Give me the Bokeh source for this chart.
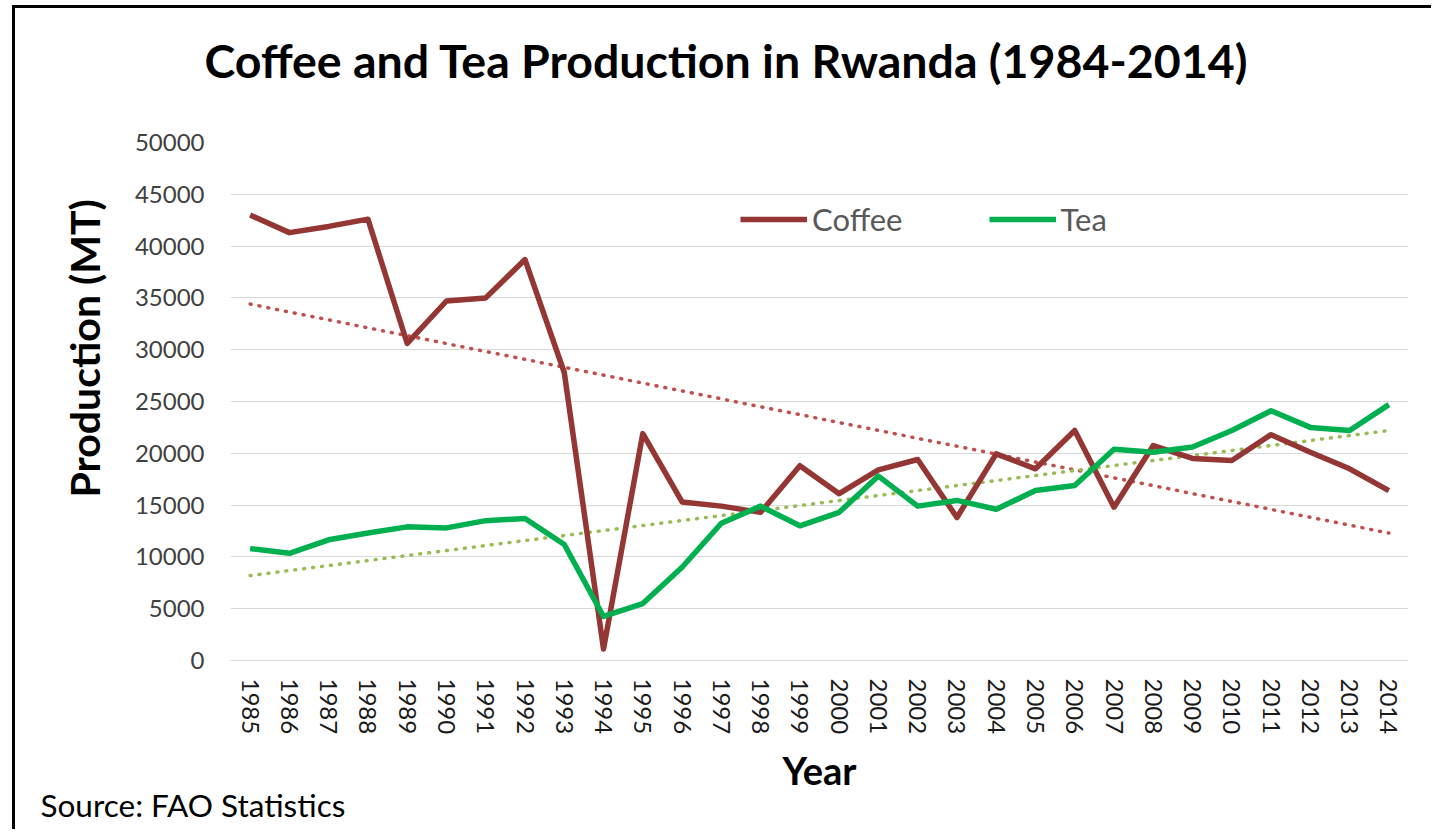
from bokeh.plotting import figure
from bokeh.models import FactorRange, Range1d, FixedTicker, Title, Legend, LegendItem
from bokeh.embed import file_html
from bokeh.resources import INLINE

years = ["1985", "1986", "1987", "1988", "1989", "1990", "1991", "1992", "1993", "1994",
         "1995", "1996", "1997", "1998", "1999", "2000", "2001", "2002", "2003", "2004",
         "2005", "2006", "2007", "2008", "2009", "2010", "2011", "2012", "2013", "2014"]
coffee = [43000, 41300, 41900, 42600, 30600, 34700, 35000, 38700, 27800, 1100,
          21900, 15300, 14900, 14300, 18800, 16100, 18400, 19400, 13800, 19950,
          18500, 22200, 14800, 20750, 19500, 19300, 21800, 20100, 18500, 16400]
tea = [10800, 10350, 11650, 12300, 12900, 12800, 13500, 13700, 11200, 4250,
       5500, 9000, 13250, 14900, 13000, 14300, 17800, 14900, 15450, 14600,
       16400, 16900, 20400, 20100, 20600, 22200, 24100, 22500, 22200, 24700]
trend_years = ["1985", "2014"]
coffee_trend = [34400, 12300]
tea_trend = [8200, 22200]
y_ticks = [0, 5000, 10000, 15000, 20000, 25000, 30000, 35000, 40000, 45000, 50000]

FONT = "Lato"

p = figure(width=1419, height=824, output_backend="svg", toolbar_location=None,
           x_range=FactorRange(factors=years, range_padding=0),
           y_range=Range1d(0, 50000),
           min_border_left=215, min_border_right=26, min_border_top=134, min_border_bottom=172)
p.title = None
p.outline_line_color = None
p.background_fill_color = "white"
p.border_fill_color = "white"
p.styles = {"border-left": "3px solid black", "border-top": "3px solid black",
            "margin-left": "12px", "margin-top": "5px"}

# grid
p.xgrid.grid_line_color = None
p.ygrid.grid_line_color = "#d9d9d9"
p.ygrid.grid_line_width = 1
p.ygrid.ticker = FixedTicker(ticks=y_ticks)

# y axis
p.yaxis.ticker = FixedTicker(ticks=y_ticks)
p.yaxis.axis_line_color = None
p.yaxis.major_tick_line_color = None
p.yaxis.minor_tick_line_color = None
p.yaxis.major_label_text_font = FONT
p.yaxis.major_label_text_font_size = "24px"
p.yaxis.major_label_text_color = "#404040"
p.yaxis.major_label_standoff = 20

# x axis
p.xaxis.axis_line_color = "#d9d9d9"
p.xaxis.major_tick_line_color = None
p.xaxis.minor_tick_line_color = None
p.xaxis.major_label_orientation = "vertical"
p.xaxis.major_label_text_font = FONT
p.xaxis.major_label_text_font_size = "24px"
p.xaxis.major_label_text_color = "#1a1a1a"
p.xaxis.major_label_standoff = 12
p.xaxis.axis_label = "Year"
p.xaxis.axis_label_text_font = FONT
p.xaxis.axis_label_text_font_style = "bold"
p.xaxis.axis_label_text_font_size = "38px"
p.xaxis.axis_label_text_color = "black"
p.xaxis.axis_label_standoff = 10

# trend lines
p.line(trend_years, coffee_trend, line_color="#c0504d", line_width=3.5,
       line_dash="1 8", line_cap="round")
p.line(trend_years, tea_trend, line_color="#9bbb59", line_width=3.5,
       line_dash="1 8", line_cap="round")

# data lines
r_coffee = p.line(years, coffee, line_color="#943634", line_width=5.5, line_join="round")
r_tea = p.line(years, tea, line_color="#00b050", line_width=5.5, line_join="round")

legend = Legend(items=[LegendItem(label="Coffee", renderers=[r_coffee]),
                       LegendItem(label="Tea", renderers=[r_tea])],
                orientation="horizontal", location=(510, 422),
                glyph_width=67, glyph_height=34, label_height=34,
                label_standoff=5, spacing=86, padding=0, margin=0,
                border_line_color=None, background_fill_alpha=0,
                label_text_font=FONT, label_text_font_size="31px",
                label_text_color="#595959")
p.add_layout(legend)

# spacer between frame and main title, then the main title
p.add_layout(Title(text=" ", text_font_size="10px", standoff=37,
                   text_color="white"), "above")
p.add_layout(Title(text="Coffee and Tea Production in Rwanda (1984-2014)", align="left",
                   offset=-26, standoff=10, text_font=FONT, text_font_style="bold",
                   text_font_size="46.5px", text_color="black"), "above")
# y axis title
p.add_layout(Title(text="Production (MT)", align="left", offset=163, standoff=46,
                   text_font=FONT, text_font_style="bold", text_font_size="41px",
                   text_color="black"), "left")
# source note
p.add_layout(Title(text="Source: FAO Statistics", align="left", offset=-190, standoff=-26,
                   text_font=FONT, text_font_style="normal", text_font_size="31.5px",
                   text_color="black"), "below")

open("out.html", "w").write(file_html(p, INLINE))
